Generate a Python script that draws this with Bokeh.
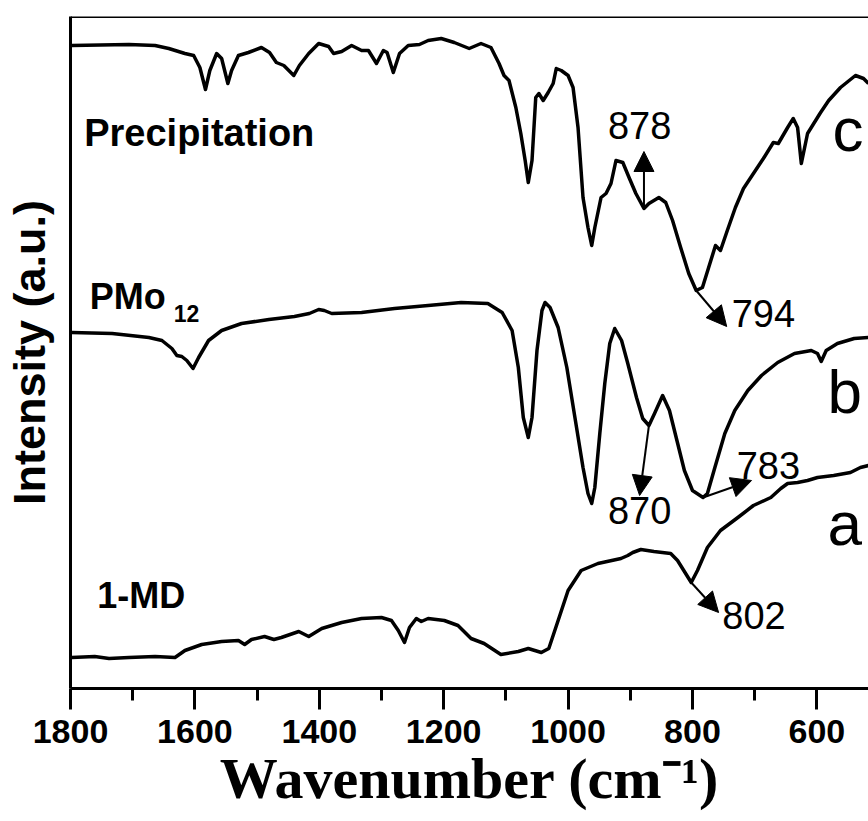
import numpy as np
from bokeh.plotting import figure
from bokeh.models import Range1d, FixedTicker, Label, Arrow, NormalHead, Span
from bokeh.embed import file_html
from bokeh.resources import INLINE

# FTIR spectra (transmittance, arbitrary units; traces offset vertically)
wn_c = [1798, 1706, 1664, 1642, 1616, 1602, 1592, 1583, 1576, 1565,
        1557, 1547, 1541, 1530, 1514, 1493, 1480, 1469, 1457, 1441,
        1432, 1417, 1401, 1385, 1377, 1364, 1348, 1332, 1321, 1308,
        1297, 1291, 1281, 1271, 1257, 1239, 1225, 1204, 1183, 1159,
        1140, 1124, 1111, 1103, 1095, 1084, 1076, 1069, 1064, 1058,
        1052, 1047, 1040, 1032, 1024, 1019, 1011, 1000, 992, 984,
        976, 968, 962, 957, 947, 939, 931, 923, 912, 902,
        891, 878, 870, 854, 843, 832, 819, 806, 794, 784,
        774, 763, 755, 744, 731, 718, 702, 686, 670, 662,
        647, 638, 631, 625, 615, 599, 594, 581, 562, 538,
        525, 517]
precipitation = [643, 644, 643, 640, 635, 633, 621, 599, 618, 635,
                 630, 605, 618, 633, 636, 641, 636, 626, 623, 613,
                 623, 635, 645, 642, 635, 637, 643, 638, 638, 625,
                 638, 636, 616, 635, 643, 644, 648, 650, 646, 640,
                 645, 641, 625, 613, 608, 581, 555, 528, 506, 528,
                 591, 595, 588, 596, 605, 620, 618, 613, 601, 561,
                 491, 461, 443, 461, 491, 495, 505, 528, 526, 511,
                 495, 480, 485, 491, 486, 468, 441, 415, 398, 401,
                 421, 443, 438, 458, 481, 500, 515, 530, 546, 545,
                 561, 570, 561, 525, 555, 571, 576, 588, 601, 613,
                 610, 605]

wn_b = [1798, 1733, 1674, 1653, 1637, 1629, 1621, 1613, 1603, 1594,
        1578, 1557, 1525, 1481, 1440, 1416, 1401, 1392, 1380, 1332,
        1279, 1225, 1172, 1129, 1106, 1090, 1080, 1072, 1064, 1058,
        1050, 1042, 1037, 1029, 1016, 1002, 989, 976, 968, 962,
        957, 949, 941, 933, 925, 914, 904, 890, 880, 870,
        861, 848, 837, 825, 813, 800, 783, 776, 764, 748,
        732, 711, 689, 663, 636, 609, 599, 593, 585, 567,
        540, 517]
pmo12 = [356, 355, 351, 348, 340, 333, 332, 328, 320, 331,
         348, 358, 365, 369, 372, 375, 379, 378, 375, 376,
         380, 383, 386, 385, 376, 358, 321, 271, 251, 271,
         338, 378, 386, 381, 361, 321, 271, 221, 195, 185,
         201, 255, 305, 345, 360, 348, 325, 291, 270, 263,
         275, 293, 278, 248, 218, 198, 191, 195, 221, 255,
         278, 298, 313, 326, 335, 338, 335, 327, 338, 345,
         350, 351]

wn_a = [1798, 1761, 1738, 1706, 1664, 1632, 1616, 1589, 1557, 1530,
        1520, 1509, 1488, 1473, 1461, 1433, 1417, 1396, 1364, 1332,
        1300, 1284, 1273, 1263, 1255, 1244, 1236, 1225, 1199, 1177,
        1156, 1135, 1108, 1080, 1064, 1043, 1031, 1016, 1000, 979,
        952, 915, 904, 896, 883, 862, 835, 824, 814, 802,
        792, 776, 755, 727, 702, 674, 658, 647, 631, 615,
        599, 573, 546, 530, 517]
md1 = [31, 32, 30, 31, 32, 31, 38, 44, 47, 48,
       44, 49, 52, 49, 51, 57, 52, 60, 66, 70,
       71, 68, 58, 46, 61, 70, 67, 70, 68, 63,
       50, 45, 34, 37, 40, 36, 40, 68, 98, 118,
       125, 130, 133, 136, 139, 137, 135, 128, 118, 106,
       118, 141, 158, 171, 183, 191, 200, 205, 206, 208,
       211, 213, 216, 221, 223]

x_ticks = [1800, 1600, 1400, 1200, 1000, 800, 600]
x_minor = [1700, 1500, 1300, 1100, 900, 700]

# marked bands: (label, wavenumber, trace, arrow offset dx, dy, text x, text y)
bands = [
    ("878", 878, "c", 0, 57, 936, 563),
    ("794", 794, "c", -49, -36, 737, 375),
    ("870", 870, "b", 15, -70, 936, 178),
    ("783", 783, "b", -78, 17, 729, 223),
    ("802", 802, "a", -44, -30, 752, 73),
]

traces = {"c": (wn_c, precipitation), "b": (wn_b, pmo12), "a": (wn_a, md1)}


def level(trace, at):
    wn, vals = traces[trace]
    return float(np.interp(at, wn[::-1], vals[::-1]))


p = figure(width=868, height=821, output_backend="svg", toolbar_location=None,
           x_range=Range1d(1800, 517), y_range=Range1d(0, 672),
           min_border_left=69, min_border_right=0, min_border_top=16,
           min_border_bottom=133)
p.outline_line_color = None
p.grid.visible = False
p.background_fill_color = "white"
p.border_fill_color = "white"

xa = p.xaxis[0]
xa.ticker = FixedTicker(ticks=x_ticks, minor_ticks=x_minor)
xa.axis_line_width = 3
xa.axis_line_color = "black"
xa.major_tick_line_width = 3
xa.minor_tick_line_width = 3
xa.major_tick_in = 0
xa.major_tick_out = 21
xa.minor_tick_in = 0
xa.minor_tick_out = 12
xa.major_label_text_font = "Liberation Sans"
xa.major_label_text_font_style = "bold"
xa.major_label_text_font_size = "34px"
xa.major_label_text_color = "black"
xa.major_label_standoff = 10
xa.axis_label = "Wavenumber (cm\u207b\u00b9)"
xa.axis_label_text_font = "Liberation Serif"
xa.axis_label_text_font_style = "bold"
xa.axis_label_text_font_size = "58px"
xa.axis_label_text_color = "black"
xa.axis_label_standoff = 0

ya = p.yaxis[0]
ya.ticker = FixedTicker(ticks=[])
ya.major_tick_line_color = None
ya.minor_tick_line_color = None
ya.major_tick_out = 0
ya.minor_tick_out = 0
ya.major_label_standoff = 0
ya.major_label_text_font_size = "0px"
ya.axis_line_width = 3
ya.axis_line_color = "black"
ya.axis_label = "Intensity (a.u.)"
ya.axis_label_text_font = "Liberation Sans"
ya.axis_label_text_font_style = "bold"
ya.axis_label_text_font_size = "45px"
ya.axis_label_text_color = "black"
ya.axis_label_standoff = 16

p.add_layout(Span(location=672, dimension="width", line_color="black", line_width=3))

for key in ("c", "b", "a"):
    wn, vals = traces[key]
    p.line(wn, vals, line_color="black", line_width=3.5, line_join="round")

for text, wn0, key, dx, dy, tx, ty in bands:
    y0 = level(key, wn0)
    p.add_layout(Arrow(x_start=wn0, y_start=y0, x_end=wn0 + dx, y_end=y0 + dy,
                       line_color="black", line_width=2,
                       end=NormalHead(size=20, fill_color="black", line_color="black")))
    p.add_layout(Label(x=tx, y=ty, text=text, text_font="Liberation Sans",
                       text_font_size="38px", text_color="black",
                       text_align="left", text_baseline="alphabetic"))

bold = dict(text_font="Liberation Sans", text_font_style="bold", text_color="black",
            text_align="left", text_baseline="alphabetic")
p.add_layout(Label(x=1778, y=556, text="Precipitation", text_font_size="38px", **bold))
p.add_layout(Label(x=1769, y=392, text="PMo", text_font_size="36px", **bold))
p.add_layout(Label(x=1634, y=375, text="12", text_font_size="23px", **bold))
p.add_layout(Label(x=1757, y=93, text="1-MD", text_font_size="36px", **bold))

for letter, tx, ty in (("c", 575, 559), ("b", 583, 297), ("a", 583, 165)):
    p.add_layout(Label(x=tx, y=ty, text=letter, text_font="Liberation Sans",
                       text_font_size="62px", text_color="black",
                       text_align="left", text_baseline="alphabetic"))

open("out.html", "w").write(file_html(p, INLINE))
